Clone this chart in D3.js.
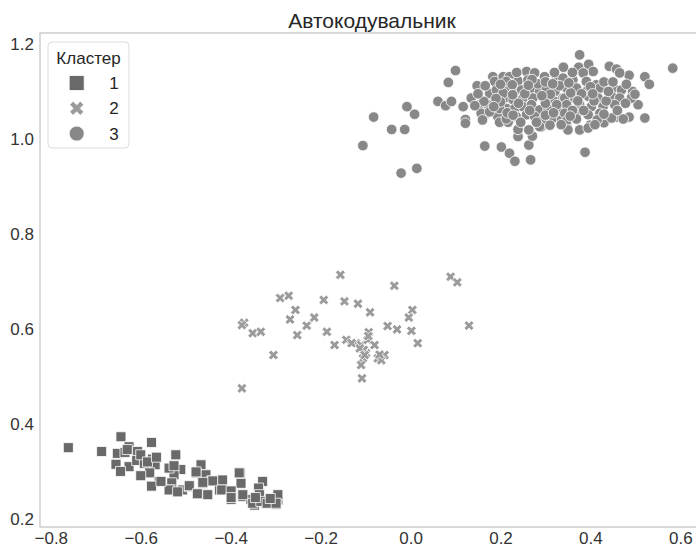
<!DOCTYPE html>
<html>
<head>
<meta charset="utf-8">
<script src="https://cdn.jsdelivr.net/npm/d3@7"></script>
<style>
  html, body { margin: 0; padding: 0; background: #fff; }
  svg { display: block; font-family: "Liberation Sans", Arial, sans-serif; }
</style>
</head>
<body>
<svg id="chart" width="696" height="547"></svg>
<script>
// Latent-space coordinates of the autoencoder, grouped by cluster
const cluster1 = [
  [-0.761,0.350],[-0.687,0.342],[-0.644,0.373],[-0.626,0.352],[-0.652,0.338],[-0.635,0.340],[-0.607,0.342],[-0.576,0.361],
  [-0.655,0.315],[-0.626,0.310],[-0.609,0.323],[-0.592,0.317],[-0.574,0.326],[-0.568,0.314],[-0.580,0.297],[-0.600,0.291],
  [-0.559,0.279],[-0.576,0.269],[-0.522,0.335],[-0.533,0.306],[-0.511,0.304],[-0.526,0.293],[-0.531,0.276],[-0.531,0.261],
  [-0.507,0.261],[-0.492,0.268],[-0.466,0.314],[-0.477,0.297],[-0.455,0.293],[-0.462,0.275],[-0.442,0.280],[-0.474,0.253],
  [-0.451,0.251],[-0.425,0.261],[-0.399,0.257],[-0.379,0.297],[-0.377,0.275],[-0.399,0.241],[-0.373,0.247],[-0.355,0.241],
  [-0.329,0.279],[-0.338,0.265],[-0.336,0.240],[-0.347,0.229],[-0.321,0.233],[-0.295,0.240],[-0.299,0.231],[-0.418,0.282],
  [-0.537,0.307],[-0.526,0.312],[-0.477,0.299],[-0.440,0.280],[-0.381,0.297],[-0.462,0.277],[-0.492,0.270],[-0.474,0.253],
  [-0.420,0.261],[-0.399,0.259],[-0.399,0.245],[-0.373,0.251],[-0.336,0.251],[-0.351,0.233],[-0.333,0.237],[-0.319,0.233],
  [-0.295,0.251],[-0.299,0.233],[-0.537,0.261],[-0.518,0.257],[-0.555,0.279],[-0.630,0.346],[-0.600,0.335],[-0.585,0.320],
  [-0.645,0.300],[-0.565,0.330],[-0.345,0.245],[-0.312,0.243]
];
const cluster2 = [
  [-0.156,0.714],[-0.036,0.691],[0.089,0.710],[0.104,0.698],[-0.290,0.665],[-0.271,0.670],[-0.193,0.661],[-0.147,0.658],
  [-0.117,0.653],[-0.256,0.640],[-0.268,0.620],[-0.214,0.624],[-0.231,0.607],[-0.090,0.635],[0.004,0.640],[-0.004,0.624],
  [-0.370,0.613],[-0.375,0.608],[-0.351,0.591],[-0.333,0.594],[-0.252,0.587],[-0.186,0.594],[-0.051,0.606],[-0.030,0.599],
  [0.002,0.596],[0.130,0.607],[-0.093,0.593],[-0.169,0.566],[-0.143,0.577],[-0.121,0.570],[-0.110,0.566],[-0.095,0.577],
  [-0.080,0.566],[0.016,0.570],[-0.099,0.549],[-0.106,0.538],[-0.073,0.538],[-0.058,0.545],[-0.110,0.524],[-0.108,0.496],
  [-0.305,0.545],[-0.375,0.475],[-0.065,0.534],[-0.131,0.570],[-0.104,0.556],[-0.113,0.559],[-0.102,0.545],[-0.069,0.546],
  [-0.094,0.585]
];
const cluster3 = [
  [-0.106,0.986],[-0.082,1.046],[-0.042,1.020],[-0.013,1.020],[-0.008,1.068],[0.009,1.052],[-0.021,0.928],[0.014,0.938],
  [0.061,1.079],[0.078,1.070],[0.091,1.079],[0.084,1.119],[0.100,1.144],[0.117,1.068],[0.122,1.041],[0.122,1.033],
  [0.148,1.112],[0.165,0.985],[0.202,0.983],[0.220,0.970],[0.232,0.953],[0.267,0.956],[0.263,0.987],[0.239,1.005],
  [0.271,1.006],[0.239,1.020],[0.263,1.019],[0.290,1.025],[0.376,1.177],[0.388,0.972],[0.583,1.149],[0.521,1.131],
  [0.531,1.115],[0.486,1.046],[0.521,1.044],[0.457,1.046],[0.430,1.034],[0.506,1.072],[0.494,1.100],[0.486,1.134],
  [0.442,1.153],[0.458,1.147],[0.465,1.139],
  [0.135,1.086],[0.154,1.072],[0.172,1.072],[0.169,1.054],[0.157,1.054],[0.183,1.131],[0.187,1.121],[0.191,1.100],
  [0.180,1.093],[0.194,1.047],[0.198,1.035],[0.217,1.035],[0.206,1.131],[0.220,1.131],[0.220,1.117],[0.239,1.122],
  [0.258,1.142],[0.276,1.139],[0.261,1.124],[0.298,1.131],[0.324,1.124],[0.339,1.151],[0.213,1.103],[0.232,1.100],
  [0.247,1.103],[0.269,1.107],[0.287,1.100],[0.302,1.107],[0.321,1.100],[0.209,1.086],[0.228,1.083],[0.250,1.086],
  [0.272,1.086],[0.298,1.083],[0.321,1.079],[0.339,1.086],[0.213,1.064],[0.232,1.064],[0.250,1.068],[0.269,1.072],
  [0.287,1.061],[0.306,1.064],[0.328,1.061],[0.347,1.068],[0.235,1.047],[0.258,1.051],[0.276,1.047],[0.295,1.040],
  [0.317,1.044],[0.336,1.040],[0.287,1.026],[0.310,1.029],[0.347,1.029],
  [0.340,1.151],[0.374,1.151],[0.396,1.157],[0.406,1.142],[0.384,1.139],[0.339,1.128],[0.361,1.124],[0.391,1.121],
  [0.413,1.114],[0.451,1.108],[0.469,1.103],[0.347,1.107],[0.369,1.107],[0.391,1.100],[0.421,1.107],[0.343,1.086],
  [0.365,1.086],[0.395,1.090],[0.417,1.086],[0.447,1.090],[0.465,1.086],[0.491,1.086],[0.499,1.094],[0.347,1.072],
  [0.376,1.072],[0.402,1.068],[0.428,1.068],[0.454,1.072],[0.343,1.054],[0.369,1.054],[0.395,1.051],[0.421,1.054],
  [0.447,1.044],[0.473,1.042],[0.347,1.038],[0.369,1.042],[0.399,1.029],[0.350,1.019],[0.376,1.019],[0.395,1.023],
  [0.176,1.057],[0.213,1.042],[0.198,1.064],[0.176,1.096],[0.191,1.103],[0.206,1.096],[0.213,1.121],[0.163,1.079],
  [0.143,1.070],[0.200,1.078],[0.226,1.114],[0.254,1.095],[0.283,1.116],[0.311,1.094],[0.331,1.112],[0.356,1.097],
  [0.380,1.095],[0.408,1.080],[0.435,1.080],[0.460,1.060],[0.415,1.040],[0.385,1.060],[0.360,1.060],[0.325,1.072],
  [0.300,1.050],[0.265,1.060],[0.240,1.075],[0.215,1.055],[0.190,1.085],[0.245,1.035],[0.300,1.120],[0.270,1.125],
  [0.430,1.120],[0.400,1.110],[0.450,1.120],[0.478,1.075],[0.360,1.140],[0.320,1.140],[0.236,1.140],[0.200,1.115],
  [0.480,1.115],[0.160,1.040],[0.335,1.030],[0.300,1.075],[0.410,1.030],
  [0.166,1.112],[0.150,1.095],[0.185,1.068],[0.227,1.093],[0.262,1.113],[0.292,1.091],[0.316,1.116],[0.352,1.118],
  [0.372,1.080],[0.405,1.095],[0.440,1.100],[0.430,1.052],[0.355,1.048],[0.318,1.055],[0.280,1.035],[0.228,1.050]
];

const clusterLabels = ["1", "2", "3"];
const xTicks = [-0.8, -0.6, -0.4, -0.2, 0.0, 0.2, 0.4, 0.6];
const yTicks = [0.2, 0.4, 0.6, 0.8, 1.0, 1.2];
const titleText = "Автокодувальник";
const legendTitle = "Кластер";

const colors = ["#696969", "#9b9b9b", "#888888"];
const shapes = ["square", "x", "circle"];

const svg = d3.select("#chart");
const plotLeft = 40, plotTop = 33, plotBottom = 527, plotRight = 709.6;

const x = d3.scaleLinear().domain([-0.824, 0.665]).range([plotLeft, plotRight]);
const y = d3.scaleLinear().domain([0.183, 1.223]).range([plotBottom, plotTop]);

// Filled "X" marker: a plus polygon rotated by 45 degrees
function xMarker(s) {
  const u = s / 6;
  const pts = [[-1,-3],[-1,-1],[-3,-1],[-3,1],[-1,1],[-1,3],[1,3],[1,1],[3,1],[3,-1],[1,-1],[1,-3]];
  const c = Math.SQRT1_2;
  return "M" + pts.map(([a, b]) => [(a - b) * c * u, (a + b) * c * u].map(v => v.toFixed(2)).join(",")).join("L") + "Z";
}
function markerPath(shape, s) {
  if (shape === "square") { const h = s / 2; return `M${-h},${-h}H${h}V${h}H${-h}Z`; }
  if (shape === "circle") { const r = s / 2; return `M${r},0A${r},${r} 0 1,1 ${-r},0A${r},${r} 0 1,1 ${r},0Z`; }
  return xMarker(s);
}

// Spines
svg.append("rect")
  .attr("x", plotLeft).attr("y", plotTop)
  .attr("width", plotRight - plotLeft).attr("height", plotBottom - plotTop)
  .attr("fill", "none").attr("stroke", "#c4c4c4").attr("stroke-width", 1.25);

// Axes (labels only, no tick marks)
const fmt = d3.format(".1f");
const gx = svg.append("g").attr("transform", `translate(0,${plotBottom})`)
  .call(d3.axisBottom(x).tickValues(xTicks).tickFormat(fmt).tickSize(0).tickPadding(5));
const gy = svg.append("g").attr("transform", `translate(${plotLeft},0)`)
  .call(d3.axisLeft(y).tickValues(yTicks).tickFormat(fmt).tickSize(0).tickPadding(6));
[gx, gy].forEach(g => {
  g.select(".domain").remove();
  g.selectAll("text").attr("fill", "#333333").style("font-size", "17px")
    .style("font-family", "'Liberation Sans', Arial, sans-serif");
});

// Points
const sizes = [10, 10.5, 10.6];
const groups = [cluster1, cluster2, cluster3];
const plot = svg.append("g");
groups.forEach((data, i) => {
  plot.append("g").selectAll("path").data(data).join("path")
    .attr("transform", d => `translate(${x(d[0])},${y(d[1])})`)
    .attr("d", markerPath(shapes[i], sizes[i]))
    .attr("fill", colors[i])
    .attr("stroke", "#ffffff").attr("stroke-width", 0.8);
});

// Title
svg.append("text")
  .attr("x", (plotLeft + 696) / 2 + 4).attr("y", 28)
  .attr("text-anchor", "middle")
  .attr("fill", "#262626").style("font-size", "21px")
  .text(titleText);

// Legend
const lg = svg.append("g");
lg.append("rect")
  .attr("x", 48).attr("y", 42).attr("width", 81).attr("height", 106).attr("rx", 4)
  .attr("fill", "#ffffff").attr("fill-opacity", 0.85)
  .attr("stroke", "#dcdcdc").attr("stroke-width", 1);
lg.append("text")
  .attr("x", 88.5).attr("y", 64).attr("text-anchor", "middle")
  .attr("fill", "#262626").style("font-size", "17px").text(legendTitle);
const legendSizes = [15, 15, 15];
clusterLabels.forEach((lab, i) => {
  const cy = 83 + i * 25.3;
  lg.append("path")
    .attr("transform", `translate(76.7,${cy})`)
    .attr("d", markerPath(shapes[i], legendSizes[i]))
    .attr("fill", colors[i]).attr("stroke", "#ffffff").attr("stroke-width", 0.8);
  lg.append("text")
    .attr("x", 114).attr("y", cy + 6).attr("text-anchor", "middle")
    .attr("fill", "#262626").style("font-size", "17px").text(lab);
});
</script>
</body>
</html>
